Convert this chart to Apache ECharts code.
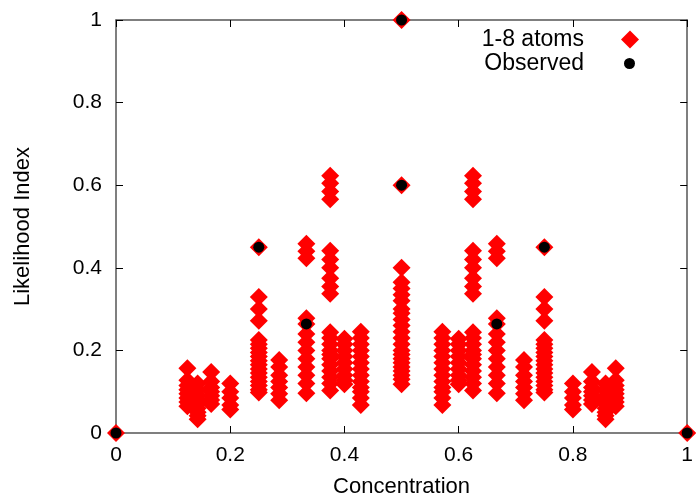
<!DOCTYPE html>
<html>
<head>
<meta charset="utf-8">
<script src="https://cdn.jsdelivr.net/npm/echarts@6/dist/echarts.min.js"></script>
<style>
html,body{margin:0;padding:0;background:#fff;}
#chart{width:696px;height:503px;}
</style>
</head>
<body>
<div id="chart"></div>
<script>
// Concentrations (fractions with up to 8 atoms)
var concentrations = [0, 0.125, 0.1429, 0.1667, 0.2, 0.25, 0.2857, 0.3333, 0.375, 0.4, 0.4286, 0.5,
                      0.5714, 0.6, 0.625, 0.6667, 0.7143, 0.75, 0.8, 0.8333, 0.8571, 0.875, 1];
// Likelihood index values of the "1-8 atoms" diamonds, one list per concentration
var likelihoods = [
  [0],
  [0.157, 0.128, 0.115, 0.105, 0.095, 0.085, 0.075, 0.065],
  [0.12, 0.105, 0.09, 0.08, 0.07, 0.06, 0.05, 0.042, 0.033],
  [0.148, 0.125, 0.11, 0.1, 0.09, 0.08, 0.07],
  [0.12, 0.1, 0.085, 0.068, 0.057],
  [0.45, 0.329, 0.3, 0.272, 0.225, 0.215, 0.205, 0.195, 0.185, 0.175, 0.165, 0.155, 0.145, 0.135, 0.125, 0.115, 0.105, 0.098],
  [0.177, 0.16, 0.14, 0.125, 0.11, 0.095, 0.079],
  [0.458, 0.44, 0.423, 0.278, 0.264, 0.24, 0.22, 0.2, 0.18, 0.16, 0.14, 0.12, 0.096],
  [0.623, 0.605, 0.585, 0.566, 0.441, 0.42, 0.4, 0.375, 0.355, 0.337, 0.244, 0.23, 0.215, 0.2, 0.19, 0.18, 0.165, 0.15, 0.135, 0.12, 0.103],
  [0.228, 0.215, 0.2, 0.185, 0.17, 0.155, 0.14, 0.128, 0.118],
  [0.245, 0.23, 0.215, 0.2, 0.185, 0.17, 0.155, 0.14, 0.125, 0.11, 0.1, 0.085, 0.068],
  [1, 0.6, 0.4, 0.365, 0.35, 0.335, 0.32, 0.3, 0.29, 0.275, 0.26, 0.245, 0.23, 0.215, 0.2, 0.19, 0.18, 0.17, 0.16, 0.15, 0.14, 0.13, 0.118],
  [0.245, 0.23, 0.215, 0.2, 0.185, 0.17, 0.155, 0.14, 0.125, 0.11, 0.1, 0.085, 0.068],
  [0.228, 0.215, 0.2, 0.185, 0.17, 0.155, 0.14, 0.128, 0.118],
  [0.623, 0.605, 0.585, 0.566, 0.441, 0.42, 0.4, 0.375, 0.355, 0.337, 0.244, 0.23, 0.215, 0.2, 0.19, 0.18, 0.165, 0.15, 0.135, 0.12, 0.103],
  [0.458, 0.44, 0.423, 0.278, 0.264, 0.24, 0.22, 0.2, 0.18, 0.16, 0.14, 0.12, 0.096],
  [0.177, 0.16, 0.14, 0.125, 0.11, 0.095, 0.079],
  [0.45, 0.329, 0.3, 0.272, 0.225, 0.215, 0.205, 0.195, 0.185, 0.175, 0.165, 0.155, 0.145, 0.135, 0.125, 0.115, 0.105, 0.098],
  [0.12, 0.1, 0.085, 0.068, 0.057],
  [0.148, 0.125, 0.11, 0.1, 0.09, 0.08, 0.07],
  [0.12, 0.105, 0.09, 0.08, 0.07, 0.06, 0.05, 0.042, 0.033],
  [0.157, 0.128, 0.115, 0.105, 0.095, 0.085, 0.075, 0.065],
  [0]
];
// Observed values
var observedX = [0, 0.25, 0.3333, 0.5, 0.5, 0.6667, 0.75, 1];
var observedY = [0, 0.45, 0.264, 1, 0.6, 0.264, 0.45, 0];
var xTicks = ['0', '0.2', '0.4', '0.6', '0.8', '1'];
var yTicks = ['0', '0.2', '0.4', '0.6', '0.8', '1'];

var atomPoints = [];
concentrations.forEach(function (c, i) {
  likelihoods[i].forEach(function (v) { atomPoints.push([c, v]); });
});
var obsPoints = observedX.map(function (x, i) { return [x, observedY[i]]; });

var FONT = "'Liberation Sans', Arial, sans-serif";
var axisColor = '#555';
function tickFmt(list) {
  return function (v) {
    var idx = Math.round(v / 0.2);
    return list[idx] !== undefined ? list[idx] : '';
  };
}
var chart = echarts.init(document.getElementById('chart'), null, {renderer: 'canvas'});
chart.setOption({
  animation: false,
  backgroundColor: '#fff',
  grid: {left: 116, right: 7, top: 20, bottom: 70},
  legend: [{
    data: [{name: '1-8 atoms', textStyle: {padding: [0, 32, 0, 0]}}],
    orient: 'vertical', align: 'right',
    right: 52, top: 23,
    itemWidth: 18, itemHeight: 18,
    textStyle: {fontFamily: FONT, fontSize: 23, color: '#000'}
  }, {
    data: [{name: 'Observed', textStyle: {padding: [0, 35, 0, 0]}}],
    orient: 'vertical', align: 'right',
    right: 56, top: 47,
    itemWidth: 11, itemHeight: 11,
    textStyle: {fontFamily: FONT, fontSize: 23, color: '#000'}
  }],
  xAxis: [{
    type: 'value', min: 0, max: 1, interval: 0.2, position: 'bottom',
    name: 'Concentration', nameLocation: 'middle', nameGap: 43,
    nameTextStyle: {fontFamily: FONT, fontSize: 22, color: '#000'},
    axisLine: {show: true, onZero: false, lineStyle: {color: axisColor, width: 1.5}},
    axisTick: {show: true, inside: true, length: 7, lineStyle: {color: '#000'}},
    axisLabel: {fontFamily: FONT, fontSize: 21, color: '#000', margin: 12, formatter: tickFmt(xTicks)},
    splitLine: {show: false}
  }, {
    type: 'value', min: 0, max: 1, interval: 0.2, position: 'top',
    axisLine: {show: true, onZero: false, lineStyle: {color: axisColor, width: 1.5}},
    axisTick: {show: true, inside: true, length: 7, lineStyle: {color: '#000'}},
    axisLabel: {show: false}, splitLine: {show: false}
  }],
  yAxis: [{
    type: 'value', min: 0, max: 1, interval: 0.2, position: 'left',
    name: 'Likelihood Index', nameLocation: 'middle', nameGap: 82,
    nameTextStyle: {fontFamily: FONT, fontSize: 22, color: '#000'},
    axisLine: {show: true, onZero: false, lineStyle: {color: axisColor, width: 1.5}},
    axisTick: {show: true, inside: true, length: 7, lineStyle: {color: '#000'}},
    axisLabel: {fontFamily: FONT, fontSize: 21, color: '#000', margin: 14, formatter: tickFmt(yTicks)},
    splitLine: {show: false}
  }, {
    type: 'value', min: 0, max: 1, interval: 0.2, position: 'right',
    axisLine: {show: true, onZero: false, lineStyle: {color: axisColor, width: 1.5}},
    axisTick: {show: true, inside: true, length: 7, lineStyle: {color: '#000'}},
    axisLabel: {show: false}, splitLine: {show: false}
  }],
  series: [{
    name: '1-8 atoms', type: 'scatter', xAxisIndex: 0, yAxisIndex: 0,
    symbol: 'diamond', symbolSize: 18, clip: false, z: 3,
    itemStyle: {color: '#ff0000', opacity: 1},
    data: atomPoints
  }, {
    name: 'Observed', type: 'scatter', xAxisIndex: 0, yAxisIndex: 0,
    symbol: 'circle', symbolSize: 11, clip: false, z: 4,
    itemStyle: {color: '#000', opacity: 1},
    data: obsPoints
  }]
});
</script>
</body>
</html>
